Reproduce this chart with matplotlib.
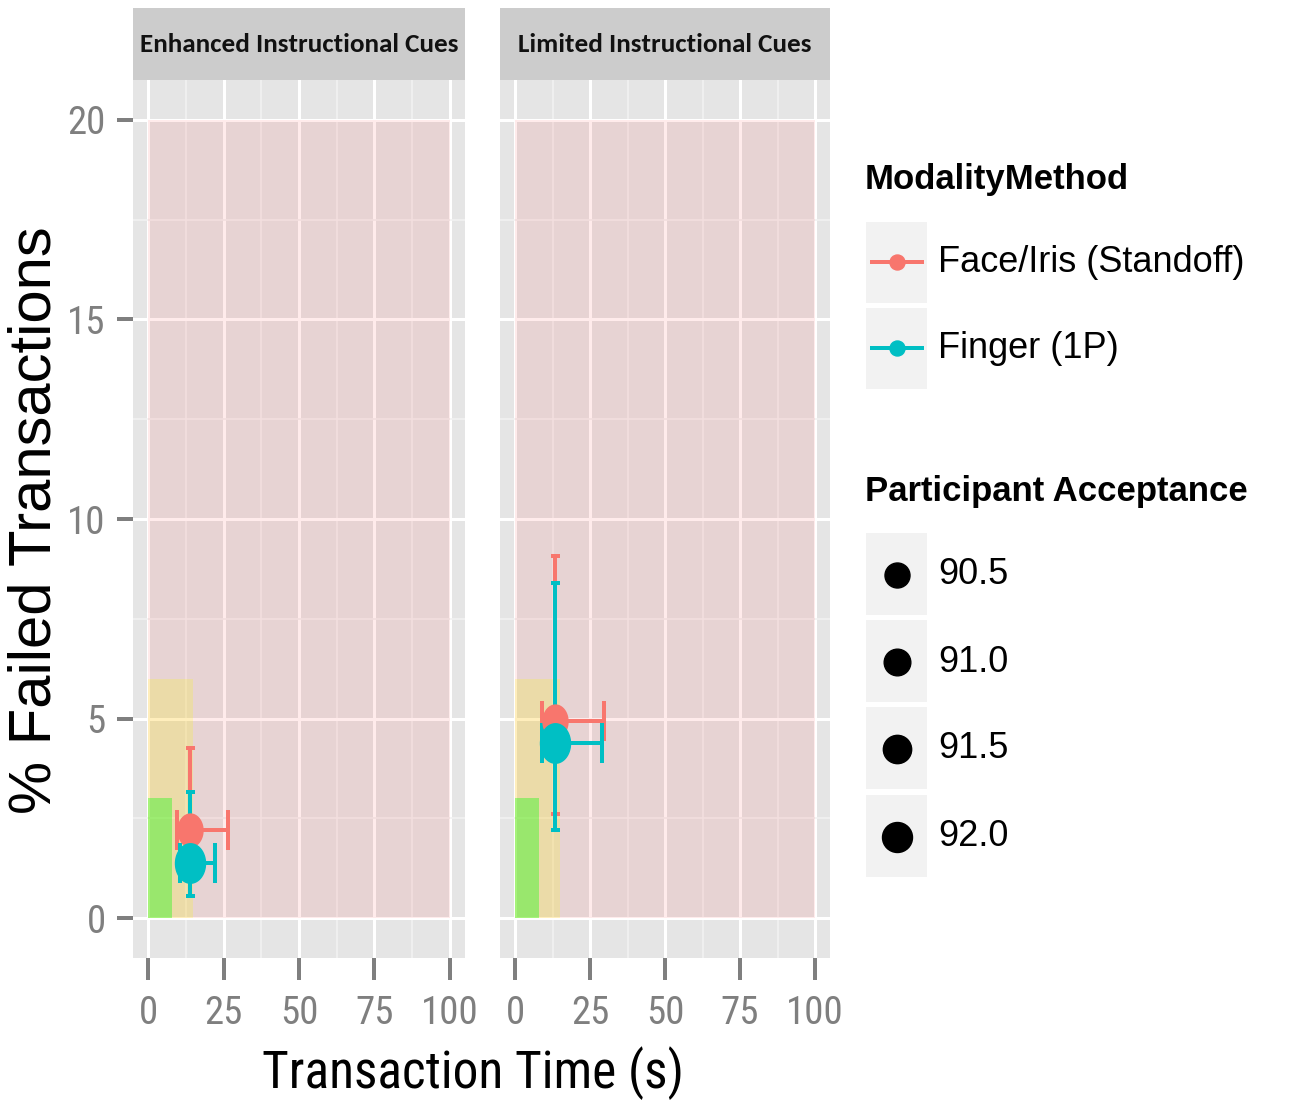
import numpy as np
import matplotlib
matplotlib.use("Agg")
import matplotlib.pyplot as plt
from matplotlib.patches import Rectangle
from matplotlib.markers import MarkerStyle
from matplotlib.lines import Line2D
import logging
logging.getLogger('matplotlib.font_manager').setLevel(logging.ERROR)

W, H = 1292, 1105

# ---- data ----
panels = ['Enhanced Instructional Cues', 'Limited Instructional Cues']
methods = ['Face/Iris (Standoff)', 'Finger (1P)']
method_colors = ['#F8766D', '#00BFC4']

# per method, one value per panel
time_mean = {'Face/Iris (Standoff)': [14.0, 13.2], 'Finger (1P)': [13.9, 13.2]}
time_lo = {'Face/Iris (Standoff)': [9.5, 8.9], 'Finger (1P)': [10.6, 9.0]}
time_hi = {'Face/Iris (Standoff)': [26.5, 29.5], 'Finger (1P)': [22.2, 29.1]}
fail_mean = {'Face/Iris (Standoff)': [2.2, 4.93], 'Finger (1P)': [1.38, 4.38]}
fail_lo = {'Face/Iris (Standoff)': [1.2, 2.6], 'Finger (1P)': [0.55, 2.2]}
fail_hi = {'Face/Iris (Standoff)': [4.25, 9.08], 'Finger (1P)': [3.15, 8.4]}
acceptance = {'Face/Iris (Standoff)': [90.5, 90.5], 'Finger (1P)': [92.0, 92.0]}

acceptance_breaks = [90.5, 91.0, 91.5, 92.0]

# background zones: time limit, failure limit
zone_time = [100, 15, 8]
zone_fail = [20, 6, 3]
zone_colors = ['red', 'yellow', '#00FF00']
zone_alpha = [0.08, 0.2, 0.35]

x_ticks = [0, 25, 50, 75, 100]
y_ticks = [0, 5, 10, 15, 20]

narrow = ['Roboto Condensed', 'Liberation Sans Narrow', 'Liberation Sans']
strip_font = ['Carlito', 'Roboto Condensed', 'Liberation Sans']
regular = ['Liberation Sans', 'DejaVu Sans']

PX = 72 / 100.0  # points per pixel


def size_px(a):
    return 25 + (a - 90.5) / 1.5 * 5


t = np.linspace(0, 2 * np.pi, 60)
ellipse = MarkerStyle(np.column_stack([0.76 * np.cos(t), np.sin(t)]))

fig = plt.figure(figsize=(W / 100, H / 100), dpi=100)

panel_left = [133, 500]
panel_w = [332, 330]
top, bottom = 80, 958

for i, name in enumerate(panels):
    ax = fig.add_axes([panel_left[i] / W, 1 - bottom / H, panel_w[i] / W, (bottom - top) / H])
    ax.set_facecolor('#E5E5E5')
    ax.set_xlim(-5, 105)
    ax.set_ylim(-1, 21)
    for s in ax.spines.values():
        s.set_visible(False)
    ax.set_xticks(x_ticks)
    ax.set_xticks([12.5, 37.5, 62.5, 87.5], minor=True)
    ax.set_yticks(y_ticks)
    ax.set_yticks([2.5, 7.5, 12.5, 17.5], minor=True)
    ax.grid(which='major', color='white', lw=3 * PX)
    ax.grid(which='minor', color='#F2F2F2', lw=1.6 * PX)
    ax.set_axisbelow(True)
    ax.tick_params(which='minor', length=0)
    ax.tick_params(axis='x', which='major', length=22 * PX, width=4 * PX, color='#7F7F7F',
                   labelcolor='#7F7F7F', labelsize=28, pad=11)
    for lab in ax.get_xticklabels():
        lab.set_family(narrow)
    if i == 0:
        ax.tick_params(axis='y', which='major', length=16 * PX, width=4 * PX, color='#7F7F7F',
                       labelcolor='#7F7F7F', labelsize=28, pad=8)
        for lab in ax.get_yticklabels():
            lab.set_family(narrow)
    else:
        ax.tick_params(axis='y', which='major', length=0, labelleft=False)

    for tx, fy, c, a in zip(zone_time, zone_fail, zone_colors, zone_alpha):
        ax.add_patch(Rectangle((0, 0), tx, fy, facecolor=c, alpha=a, edgecolor='none', zorder=1))

    # vertical error bars
    for m, c in zip(methods, method_colors):
        y = fail_mean[m][i]
        ax.errorbar([time_mean[m][i]], [y],
                    yerr=[[y - fail_lo[m][i]], [fail_hi[m][i] - y]],
                    fmt='none', ecolor=c, elinewidth=4 * PX, capsize=4.5 * PX,
                    capthick=4 * PX, zorder=3)
    # horizontal error bars
    for m, c in zip(methods, method_colors):
        x = time_mean[m][i]
        ax.errorbar([x], [fail_mean[m][i]],
                    xerr=[[x - time_lo[m][i]], [time_hi[m][i] - x]],
                    fmt='none', ecolor=c, elinewidth=4 * PX, capsize=20 * PX,
                    capthick=4 * PX, zorder=4)
    # points
    for m, c in zip(methods, method_colors):
        h = size_px(acceptance[m][i]) / 0.76
        ax.plot([time_mean[m][i]], [fail_mean[m][i]], linestyle='none', marker=ellipse,
                ms=h * PX, color=c, mec=c, zorder=5)

    # strip
    sax = fig.add_axes([panel_left[i] / W, 1 - top / H, panel_w[i] / W, 72 / H])
    sax.set_facecolor('#CCCCCC')
    sax.set_xticks([])
    sax.set_yticks([])
    for s in sax.spines.values():
        s.set_visible(False)
    sax.text(0.5, 0.5, name, ha='center', va='center', fontsize=19.5, fontweight='bold',
             family=strip_font, color='#111111', transform=sax.transAxes)

# axis titles
fig.text(473 / W, 1 - 1088 / H, 'Transaction Time (s)', ha='center', va='baseline',
         fontsize=37, family=narrow, color='black')
fig.text(35 / W, 1 - 520 / H, '% Failed Transactions', ha='center', va='center',
         rotation=90, fontsize=43, family=regular, color='black')

# legends drawn in pixel space
lg = fig.add_axes([0, 0, 1, 1], facecolor='none')
lg.set_xlim(0, W)
lg.set_ylim(H, 0)
lg.axis('off')

lg.text(865, 180, 'ModalityMethod', ha='left', va='center', fontsize=25,
        fontweight='bold', family=regular)
key_y = [222, 308]
for m, c, ky in zip(methods, method_colors, key_y):
    lg.add_patch(Rectangle((866, ky), 61, 81, facecolor='#F2F2F2', edgecolor='none'))
    cy = ky + 40
    lg.add_line(Line2D([872, 922], [cy, cy], color=c, lw=4 * PX))
    lg.plot([897], [cy], 'o', ms=15 * PX, color=c)
    lg.text(938, cy, m, ha='left', va='center', fontsize=26, family=regular)

lg.text(865, 492, 'Participant Acceptance', ha='left', va='center', fontsize=25,
        fontweight='bold', family=regular)
size_y = [533, 620, 707, 795]
for b, ky in zip(acceptance_breaks, size_y):
    lg.add_patch(Rectangle((866, ky), 61, 82, facecolor='#F2F2F2', edgecolor='none'))
    cy = ky + 42
    lg.plot([897], [cy], 'o', ms=size_px(b) * PX, color='black')
    lg.text(938, cy, f'{b:.1f}', ha='left', va='center', fontsize=26, family=regular)

fig.savefig('out.png', dpi=100)
